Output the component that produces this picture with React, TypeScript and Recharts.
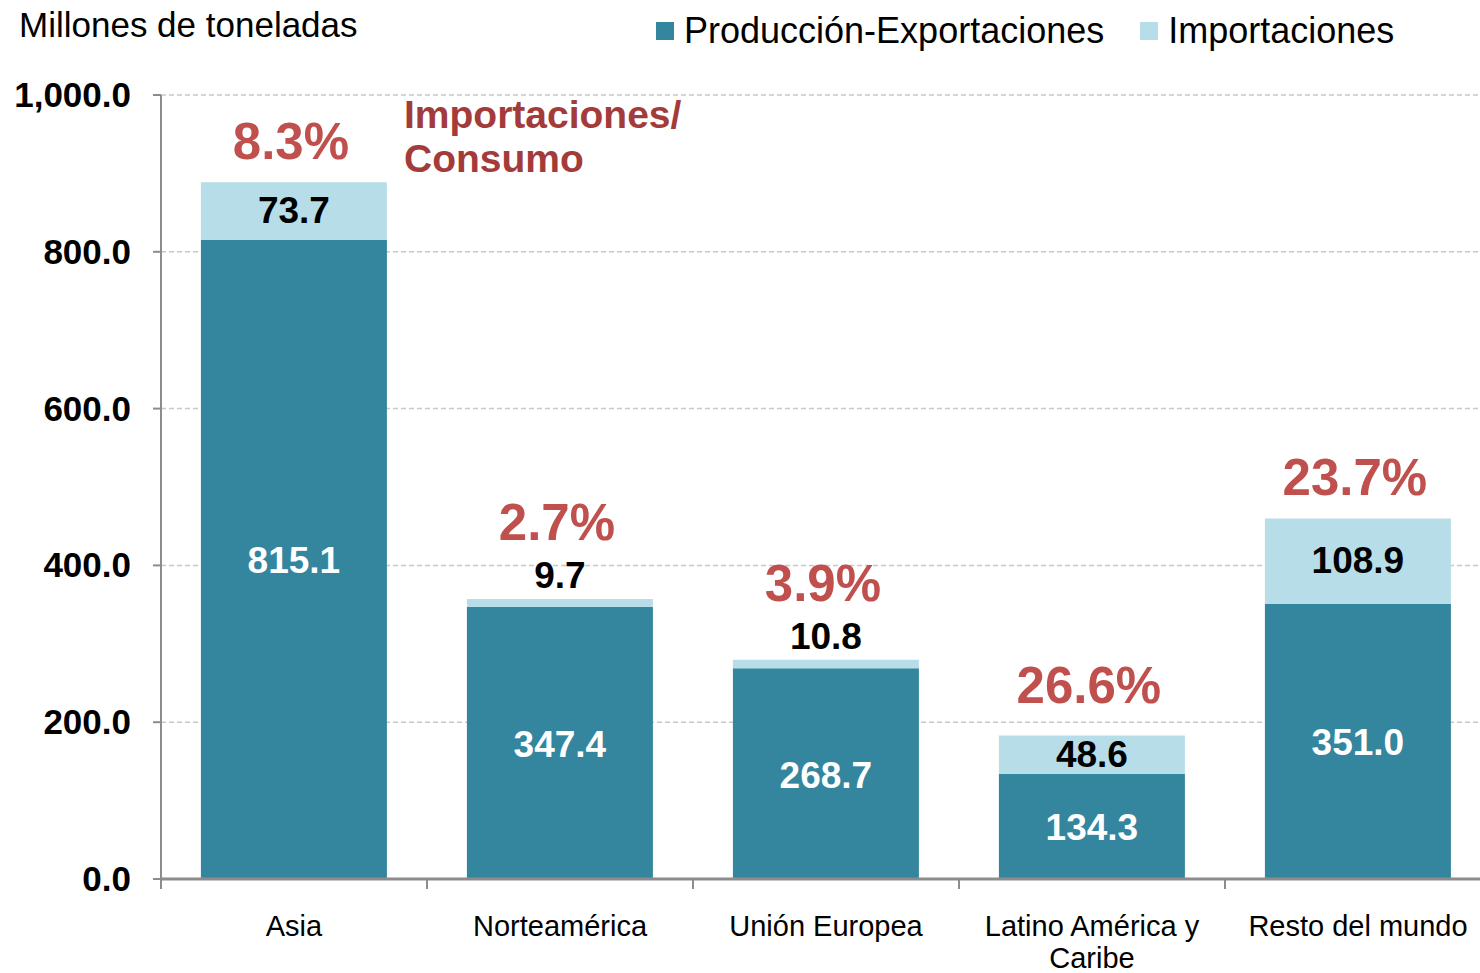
import React from "react";
import { BarChart, Bar, XAxis, YAxis, CartesianGrid, LabelList } from "recharts";

const categories = ["Asia", "Norteamérica", "Unión Europea", "Latino América y Caribe", "Resto del mundo"];
const produccion = [815.1, 347.4, 268.7, 134.3, 351.0];
const importaciones = [73.7, 9.7, 10.8, 48.6, 108.9];
const porcentajes = ["8.3%", "2.7%", "3.9%", "26.6%", "23.7%"];
const yTicks = [0, 200, 400, 600, 800, 1000];

const data = categories.map((c, i) => ({
  name: c,
  prod: produccion[i],
  imp: importaciones[i],
}));

const FONT = "'Liberation Sans', Arial, sans-serif";
const DARK = "#33869E";
const LIGHT = "#B7DDE8";
const PCT_RED = "#C0504D";
const AXIS = "#8C8C8C";
const HALF_BAND = 133;
const MAX_CHARS = 17;

const fmt = (v: number) =>
  v.toLocaleString("en-US", { minimumFractionDigits: 1, maximumFractionDigits: 1 });

const wrap = (s: string) => {
  const words = s.split(" ");
  const lines: string[] = [];
  let cur = "";
  words.forEach((w) => {
    const next = cur ? cur + " " + w : w;
    if (next.length > MAX_CHARS && cur) {
      lines.push(cur);
      cur = w;
    } else {
      cur = next;
    }
  });
  if (cur) lines.push(cur);
  return lines;
};

const YTick = (props: any) => {
  const { x, y, payload } = props;
  return (
    <g>
      <line x1={x} x2={x + 8} y1={y} y2={y} stroke={AXIS} strokeWidth={2} />
      <text x={x - 22} y={y} dy={12} textAnchor="end" fontFamily={FONT} fontWeight="bold" fontSize={35} fill="#000">
        {fmt(payload.value)}
      </text>
    </g>
  );
};

const XTick = (props: any) => {
  const { x, y, payload } = props;
  const bx = x - HALF_BAND;
  const lines = wrap(String(payload.value));
  return (
    <g>
      <line x1={bx} x2={bx} y1={y - 8} y2={y + 2} stroke={AXIS} strokeWidth={2} />
      <text x={x} y={y + 49} textAnchor="middle" fontFamily={FONT} fontSize={29} fill="#000">
        {lines.map((l, i) => (
          <tspan key={i} x={x} dy={i === 0 ? 0 : 32}>
            {l}
          </tspan>
        ))}
      </text>
    </g>
  );
};

const ProdLabel = (props: any) => {
  const { x, y, width, height, value } = props;
  return (
    <text
      x={x + width / 2}
      y={y + height / 2}
      dy={14}
      textAnchor="middle"
      fontFamily={FONT}
      fontWeight="bold"
      fontSize={37}
      fill="#fff"
    >
      {fmt(value)}
    </text>
  );
};

const ImpLabel = (props: any) => {
  const { x, y, width, height, value, index } = props;
  const cx = x + width / 2;
  const small = height < 20;
  const valY = small ? y - 23 : y + height / 2;
  const pctY = small ? y - 78 : y - 42 - (height < 50 ? 10 : 0);
  return (
    <g>
      <text x={cx} y={valY} dy={12} textAnchor="middle" fontFamily={FONT} fontWeight="bold" fontSize={37} fill="#000">
        {fmt(value)}
      </text>
      <text x={cx - 3} y={pctY} dy={19} textAnchor="middle" fontFamily={FONT} fontWeight="bold" fontSize={51} fill={PCT_RED}>
        {porcentajes[index]}
      </text>
    </g>
  );
};

const legendItems = [
  { label: "Producción-Exportaciones", color: DARK },
  { label: "Importaciones", color: LIGHT },
];

export default function App() {
  return (
    <div style={{ position: "absolute", left: 0, top: 0, width: 1480, height: 973, overflow: "hidden", background: "#fff" }}>
      <div style={{ position: "absolute", left: 19, top: 5, fontFamily: FONT, fontSize: 35, color: "#000" }}>
        Millones de toneladas
      </div>
      <div
        style={{
          position: "absolute",
          left: 656,
          top: 10,
          display: "flex",
          alignItems: "center",
          fontFamily: FONT,
          fontSize: 36,
          color: "#000",
          zIndex: 2,
        }}
      >
        {legendItems.map((it, i) => (
          <div key={i} style={{ display: "flex", alignItems: "center", marginRight: i === 0 ? 36 : 0 }}>
            <div style={{ width: 18, height: 18, background: it.color, marginRight: 10 }} />
            <span>{it.label}</span>
          </div>
        ))}
      </div>
      <div
        style={{
          position: "absolute",
          left: 404,
          top: 93,
          fontFamily: FONT,
          fontWeight: "bold",
          fontSize: 39,
          lineHeight: "44px",
          color: "#A33B3B",
          zIndex: 2,
        }}
      >
        Importaciones/
        <br />
        Consumo
      </div>
      <BarChart
        width={1500}
        height={973}
        data={data}
        margin={{ top: 95, right: 9, bottom: 0, left: 0 }}
        barCategoryGap="15%"
      >
        <CartesianGrid vertical={false} stroke="#C8C8C8" strokeDasharray="5 3" strokeWidth={1.5} />
        <XAxis
          dataKey="name"
          stroke={AXIS}
          strokeWidth={3}
          tickLine={false}
          tick={<XTick />}
          interval={0}
          height={94}
        />
        <YAxis
          domain={[0, 1000]}
          ticks={yTicks}
          width={161}
          stroke={AXIS}
          strokeWidth={2}
          tickLine={false}
          tick={<YTick />}
          interval={0}
        />
        <Bar dataKey="prod" name="Producción-Exportaciones" stackId="a" fill={DARK} isAnimationActive={false}>
          <LabelList dataKey="prod" content={<ProdLabel />} />
        </Bar>
        <Bar dataKey="imp" name="Importaciones" stackId="a" fill={LIGHT} isAnimationActive={false}>
          <LabelList dataKey="imp" content={<ImpLabel />} />
        </Bar>
      </BarChart>
    </div>
  );
}
